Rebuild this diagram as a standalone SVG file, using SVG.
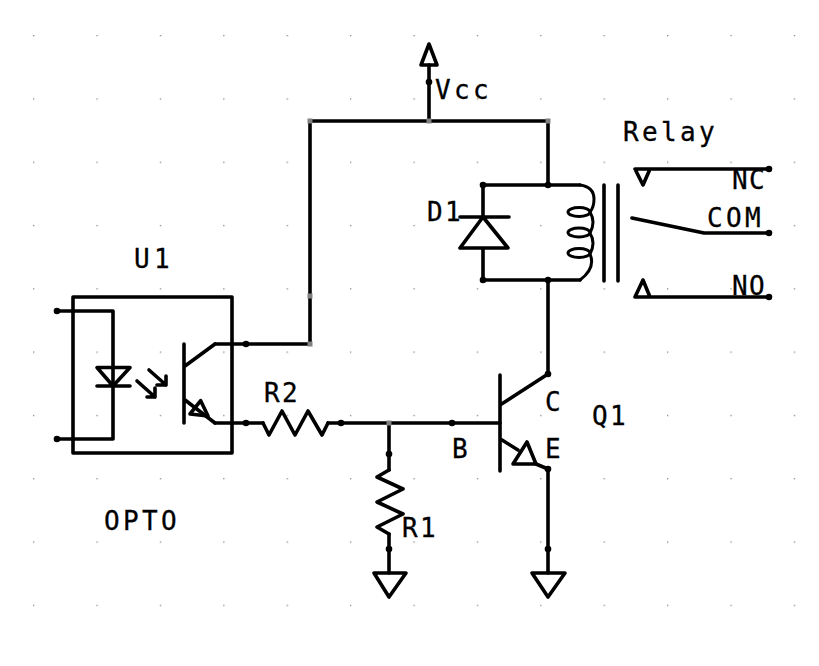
<svg xmlns="http://www.w3.org/2000/svg" width="819" height="666" viewBox="0 0 819 666">
<style>
.w{fill:none;stroke:#000;stroke-width:3.600;stroke-linejoin:round;stroke-linecap:round}
.t{fill:none;stroke:#000;stroke-width:3;stroke-linejoin:round;stroke-linecap:round}
.p{fill:#000}
.j{fill:#808080}
text{font-family:"DejaVu Sans Mono",monospace;font-size:26px;fill:#000;stroke:#000;stroke-width:.3}
</style>
<defs>
<pattern id="grid" x="33" y="35" width="63.4" height="63.3" patternUnits="userSpaceOnUse"><rect width="1.300" height="1.300" fill="#888"/></pattern>
<circle id="dot" r="3.300" class="p"/>
<rect id="jn" x="-2.500" y="-2.500" width="5" height="5" class="j"/>
</defs>
<rect width="819" height="666" fill="#fff"/>
<rect width="819" height="666" fill="url(#grid)"/>
<g id="connectors">
<path class="w" d="M429 65V121M310 121H548V185M310 121V344H215M215 423H263M328 423H500M389 423V470M389 534V573M548 280V374M548 469V573"/>
<use href="#jn" x="310" y="121"/><use href="#jn" x="429" y="121"/><use href="#jn" x="548" y="121"/><use href="#jn" x="310" y="296"/><use href="#jn" x="310" y="344"/><use href="#jn" x="389" y="423"/>
<use href="#dot" x="429" y="82"/><use href="#dot" x="246" y="344"/><use href="#dot" x="246" y="423"/><use href="#dot" x="341" y="423"/><use href="#dot" x="452" y="423"/><use href="#dot" x="389" y="454"/><use href="#dot" x="389" y="549"/><use href="#dot" x="548" y="549"/><use href="#dot" x="548" y="469"/><use href="#dot" x="548" y="374"/>
</g>
<g id="vcc"><path class="w" d="M429 44L437 65H421Z"/><text x="435 454 473" y="99">Vcc</text></g>
<g id="opto">
<rect class="w" x="73" y="297" width="159" height="156"/>
<path class="w" d="M57 311H113V439H57"/>
<use href="#dot" x="57" y="311"/><use href="#dot" x="57" y="439"/>
<path class="w" d="M97 367.500H130L113 386ZM97 386H130"/>
<path class="w" d="M149 370L166 385M166 376V385H157M137 381L155 397M155 388V397H147"/>
<path class="w" d="M184 344V423M185 366L215 344M185 400L215 423"/>
<path class="w" d="M200.700 400.700L208 416L190 414Z"/>
<text x="134 154" y="268">U1</text>
<text x="104 123 142 161" y="530">OPTO</text>
</g>
<g id="R2"><path class="w" d="M263 423L269 435L282 411L295 435L308 411L322 435L328 423"/><text x="264 282" y="402">R2</text></g>
<g id="R1"><path class="w" d="M389 470L377 477L403 489L377 502L403 514L377 527L389 534"/><text x="402 420" y="537">R1</text></g>
<g id="gnd1"><path class="w" d="M374 573H406L389 597Z"/></g>
<g id="gnd2"><path class="w" d="M532 573H565L548 597Z"/></g>
<g id="Q1">
<path class="w" d="M500 375V471M500 405L548 374M502 440L518 450M536 464L548 469"/>
<path class="w" d="M527 442L536 464H513Z"/>
<text x="452" y="458">B</text><text x="545" y="411">C</text><text x="545" y="458">E</text>
<text x="592 610" y="425">Q1</text>
</g>
<g id="D1">
<path class="w" d="M483 185V217M460 217H509M483 217L460 248H508ZM483 248V280"/>
<text x="427 445" y="221">D1</text>
</g>
<g id="relay">
<path class="w" d="M483 185H580M483 280H580"/>
<use href="#dot" x="483" y="185"/><use href="#dot" x="483" y="280"/><use href="#dot" x="548" y="185"/><use href="#dot" x="548" y="280"/>
<path class="t" d="M580 185Q594 187 594 199Q594 207 590 212Q596 222 590 233Q596 243 590 254Q596 268 580 280"/>
<ellipse class="t" cx="579" cy="212" rx="11" ry="4.500"/><ellipse class="t" cx="579" cy="232.500" rx="11" ry="4.500"/><ellipse class="t" cx="579" cy="253" rx="11" ry="4.500"/>
<path class="w" d="M604 185V281M618 185V281"/>
<path class="w" d="M635 169H769M635 169H650L643 185ZM632 218L704 233H769M635 297H769M635 297H650L643 280Z"/>
<use href="#dot" x="769" y="169"/><use href="#dot" x="769" y="233"/><use href="#dot" x="769" y="297"/>
<text x="623 642 661 680 699" y="141">Relay</text>
<text x="732 749" y="189">NC</text>
<text x="707 726 745" y="227">COM</text>
<text x="732 749" y="295">NO</text>
</g>
</svg>
